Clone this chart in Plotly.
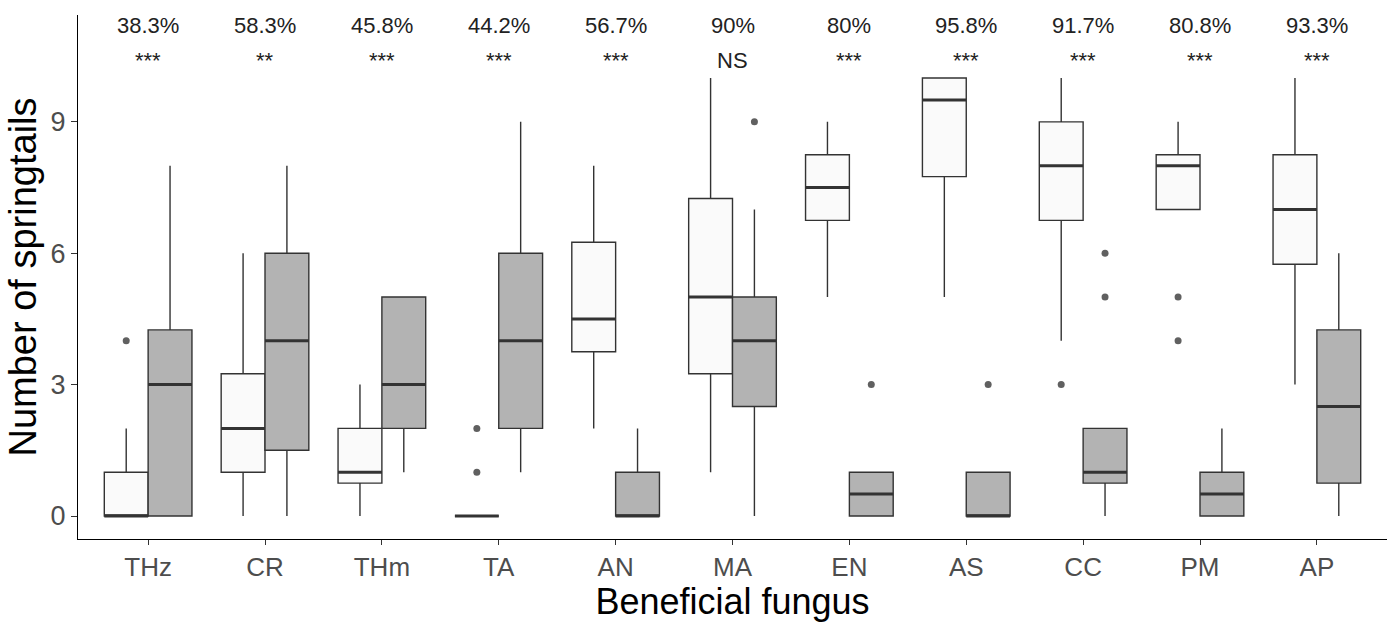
import plotly.graph_objects as go

categories = ["THz", "CR", "THm", "TA", "AN", "MA", "EN", "AS", "CC", "PM", "AP"]
percent_labels = ["38.3%", "58.3%", "45.8%", "44.2%", "56.7%", "90%", "80%", "95.8%", "91.7%", "80.8%", "93.3%"]
sig_labels = ["***", "**", "***", "***", "***", "NS", "***", "***", "***", "***", "***"]

# white group (first box of each pair)
w_q1 = [0, 1, 0.75, 0, 3.75, 3.25, 6.75, 7.75, 6.75, 7, 5.75]
w_med = [0, 2, 1, 0, 4.5, 5, 7.5, 9.5, 8, 8, 7]
w_q3 = [1, 3.25, 2, 0, 6.25, 7.25, 8.25, 10, 9, 8.25, 8.25]
w_lo = [0, 0, 0, 0, 2, 1, 5, 5, 4, 7, 3]
w_hi = [2, 6, 3, 0, 8, 10, 9, 10, 10, 9, 10]
w_out_cat = ["THz", "TA", "TA", "CC", "PM", "PM"]
w_out_val = [4, 1, 2, 3, 4, 5]

# grey group (second box of each pair)
g_q1 = [0, 1.5, 2, 2, 0, 2.5, 0, 0, 0.75, 0, 0.75]
g_med = [3, 4, 3, 4, 0, 4, 0.5, 0, 1, 0.5, 2.5]
g_q3 = [4.25, 6, 5, 6, 1, 5, 1, 1, 2, 1, 4.25]
g_lo = [0, 0, 1, 1, 0, 0, 0, 0, 0, 0, 0]
g_hi = [8, 8, 5, 9, 2, 7, 1, 1, 2, 2, 6]
g_out_cat = ["MA", "EN", "AS", "CC", "CC"]
g_out_val = [9, 3, 3, 5, 6]

BW = 0.375
OFF = BW / 2
pos = list(range(1, len(categories) + 1))
idx = {c: i + 1 for i, c in enumerate(categories)}
LINE = "#333333"

fig = go.Figure()


def add_group(offset, q1, med, q3, lo, hi, fill, out_cat, out_val):
    xs = [p + offset for p in pos]
    fig.add_trace(go.Box(
        x=xs, q1=q1, median=med, q3=q3, lowerfence=lo, upperfence=hi,
        width=BW, whiskerwidth=0, boxpoints=False,
        fillcolor=fill, line=dict(color=LINE, width=1.4),
        showlegend=False, hoverinfo="skip"))
    mx, my = [], []
    for x, m in zip(xs, med):
        mx += [x - OFF, x + OFF, None]
        my += [m, m, None]
    fig.add_trace(go.Scatter(x=mx, y=my, mode="lines",
                             line=dict(color=LINE, width=3),
                             showlegend=False, hoverinfo="skip"))
    fig.add_trace(go.Scatter(
        x=[idx[c] + offset for c in out_cat], y=out_val, mode="markers",
        marker=dict(color="#606060", size=7),
        showlegend=False, hoverinfo="skip"))


add_group(-OFF, w_q1, w_med, w_q3, w_lo, w_hi, "#FAFAFA", w_out_cat, w_out_val)
add_group(OFF, g_q1, g_med, g_q3, g_lo, g_hi, "#B3B3B3", g_out_cat, g_out_val)

for p, pl, sl in zip(pos, percent_labels, sig_labels):
    fig.add_annotation(x=p, y=11.2, text=pl, showarrow=False,
                       font=dict(size=22, color="#222222"), yanchor="middle")
    fig.add_annotation(x=p, y=10.4, text=sl, showarrow=False,
                       font=dict(size=22, color="#222222"), yanchor="middle")

fig.update_layout(
    width=1398, height=622,
    margin=dict(l=78, r=11, t=15, b=83),
    paper_bgcolor="white", plot_bgcolor="white",
    font=dict(family="Liberation Sans, Arial, sans-serif"),
    boxmode="overlay",
)
fig.update_xaxes(
    range=[0.4, 11.6], tickmode="array", tickvals=pos, ticktext=categories,
    showgrid=False, zeroline=False, showline=True, linecolor="#000000", linewidth=1.3,
    ticks="outside", ticklen=5, tickcolor="#333333", tickwidth=1.2,
    tickfont=dict(size=26, color="#4D4D4D"),
    title=dict(text="Beneficial fungus", font=dict(size=36, color="#000000"), standoff=3),
    automargin=False,
)
fig.update_yaxes(
    range=[-0.525, 11.44], tickmode="array", tickvals=[0, 3, 6, 9],
    showgrid=False, zeroline=False, showline=True, linecolor="#000000", linewidth=1.3,
    ticks="outside", ticklen=6, tickcolor="#333333", tickwidth=1.2,
    tickfont=dict(size=27, color="#4D4D4D"),
    title=dict(text="Number of springtails", font=dict(size=38, color="#000000"), standoff=2),
    automargin=False,
)

fig.write_html("out.html")
